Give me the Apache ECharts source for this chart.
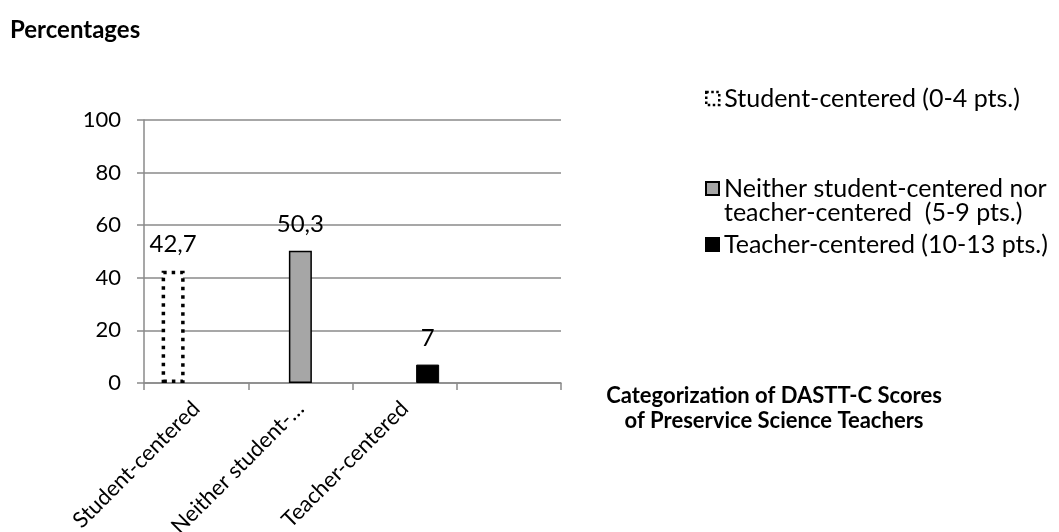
<!DOCTYPE html>
<html>
<head>
<meta charset="utf-8">
<script src="https://cdn.jsdelivr.net/npm/echarts@6/dist/echarts.min.js"></script>
<style>
  html, body { margin: 0; padding: 0; background: #ffffff; }
  #chart { width: 1059px; height: 532px; }
</style>
</head>
<body>
<div id="chart"></div>
<script>
// Category labels along the x axis (the fourth slot is left empty)
const categories = ['Student-centered', 'Neither student-…', 'Teacher-centered', ''];

// One series per score band, each holding its percentage in its own category
const seriesNames = [
  'Student-centered (0-4 pts.)',
  'Neither student-centered nor\nteacher-centered  (5-9 pts.)',
  'Teacher-centered (10-13 pts.)'
];
const studentCentered = [42.7, null, null, null];
const neitherCentered = [null, 50.3, null, null];
const teacherCentered = [null, null, 7, null];

// Y axis range
const yMin = 0, yMax = 100, yStep = 20;

const FONT = 'Lato';
const GRID_GREY = '#8a8a8a';

const chart = echarts.init(document.getElementById('chart'), null, { renderer: 'canvas' });

const labelCfg = {
  show: true,
  position: 'top',
  distance: 14,
  color: '#000',
  fontFamily: FONT,
  fontSize: 24,
  formatter: p => String(p.value).replace('.', ',')
};

const legendText = { fontFamily: FONT, fontSize: 25, lineHeight: 24, color: '#000' };
const legendBase = {
  left: 705,
  padding: 0,
  icon: 'rect',
  itemWidth: 13,
  itemHeight: 13,
  itemGap: 0,
  selectedMode: false,
  textStyle: legendText
};

chart.setOption({
  animation: false,
  backgroundColor: '#ffffff',
  textStyle: { fontFamily: FONT, color: '#000' },
  title: [{
    text: 'Percentages',
    left: 5,
    top: 13,
    textStyle: { fontFamily: FONT, fontSize: 24, fontWeight: 'bold', color: '#000' }
  }],
  // fixed plot box; the rotated labels are allowed to run past the bottom edge
  grid: { left: 144, top: 120, right: 498, bottom: 149, containLabel: false, outerBoundsMode: 'none' },
  legend: [
    Object.assign({}, legendBase, {
      top: 86,
      data: [{
        name: seriesNames[0],
        itemStyle: { color: '#ffffff', borderColor: '#000000', borderWidth: 2.5, borderType: [2.5, 2.5] }
      }]
    }),
    Object.assign({}, legendBase, {
      top: 152,
      // leading blank line keeps the icon level with the first text line
      formatter: name => '\n' + name,
      data: [{
        name: seriesNames[1],
        itemStyle: { color: '#a6a6a6', borderColor: '#000000', borderWidth: 2 }
      }]
    }),
    Object.assign({}, legendBase, {
      top: 232,
      data: [seriesNames[2]]
    })
  ],
  xAxis: {
    type: 'category',
    data: categories,
    boundaryGap: true,
    name: 'Categorization of DASTT-C Scores\nof Preservice Science Teachers',
    nameLocation: 'end',
    nameGap: 213,
    nameTextStyle: {
      fontFamily: FONT, fontSize: 22, fontWeight: 'bold', color: '#000',
      align: 'center', verticalAlign: 'top', lineHeight: 25
    },
    axisLine: { show: true, lineStyle: { color: GRID_GREY, width: 1.5 } },
    axisTick: { show: true, length: 7, lineStyle: { color: GRID_GREY, width: 1.5 } },
    axisLabel: {
      interval: 0, rotate: 45, margin: 22,
      fontFamily: FONT, fontSize: 22, color: '#000'
    },
    splitLine: { show: false }
  },
  yAxis: {
    type: 'value',
    min: yMin, max: yMax, interval: yStep,
    axisLine: { show: true, lineStyle: { color: GRID_GREY, width: 1.5 } },
    axisTick: { show: true, length: 7, lineStyle: { color: GRID_GREY, width: 1.5 } },
    axisLabel: { margin: 23, fontFamily: FONT, fontSize: 22, color: '#000' },
    splitLine: { show: true, lineStyle: { color: GRID_GREY, width: 1.5 } }
  },
  series: [
    {
      name: seriesNames[0],
      type: 'bar',
      data: studentCentered,
      barWidth: 23,
      barGap: '0%',
      itemStyle: {
        color: '#ffffff',
        borderColor: '#000000',
        borderWidth: 3.5,
        borderType: [3.5, 5]
      },
      label: labelCfg
    },
    {
      name: seriesNames[1],
      type: 'bar',
      data: neitherCentered,
      barWidth: 23,
      barGap: '0%',
      itemStyle: { color: '#a6a6a6', borderColor: '#000000', borderWidth: 1.5 },
      label: labelCfg
    },
    {
      name: seriesNames[2],
      type: 'bar',
      data: teacherCentered,
      barWidth: 23,
      barGap: '0%',
      itemStyle: { color: '#000000', borderColor: '#000000', borderWidth: 1 },
      label: labelCfg
    }
  ]
});
</script>
</body>
</html>
